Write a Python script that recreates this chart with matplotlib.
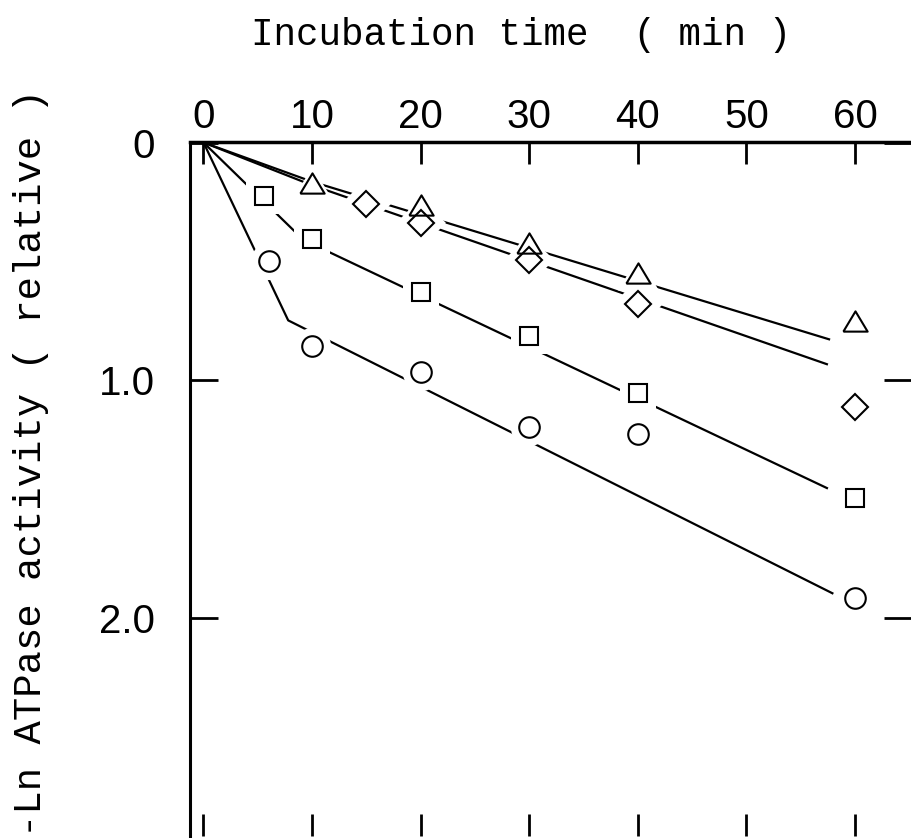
import matplotlib
matplotlib.use("Agg")
import matplotlib.pyplot as plt
import numpy as np

# measured points (time in min, -ln activity)
t_tri = [10, 20, 30, 40, 60]
v_tri = [0.171, 0.263, 0.422, 0.551, 0.752]
t_dia = [15, 20, 30, 40, 60]
v_dia = [0.259, 0.340, 0.493, 0.680, 1.112]
t_sq = [5.6, 10, 20, 30, 40, 60]
v_sq = [0.225, 0.406, 0.631, 0.813, 1.056, 1.497]
t_circ = [6, 10, 20, 30, 40, 60]
v_circ = [0.498, 0.857, 0.967, 1.197, 1.227, 1.917]

# hand drawn fit lines (vertices)
fit_tri_t = [0, 10, 57.7]
fit_tri_v = [0, 0.165, 0.83]
fit_dia_t = [0, 10, 57.5]
fit_dia_v = [0, 0.18, 0.935]
fit_sq_t = [0, 9.2, 57.5]
fit_sq_v = [0, 0.41, 1.457]
fit_circ_t = [0, 7.8, 58]
fit_circ_v = [0, 0.749, 1.90]

xticks = [0, 10, 20, 30, 40, 50, 60]
yticks = [0, 1.0, 2.0]
yticklabels = ["0", "1.0", "2.0"]

W, H = 911, 838
fig = plt.figure(figsize=(W / 100, H / 100), dpi=100)
ax = fig.add_axes([190 / W, 1 - 836 / H, (912 - 190) / W, (836 - 142.5) / H])

tri = [(-0.6, -0.5), (0.6, -0.5), (0, 0.5), (-0.6, -0.5)]
series = [
    (t_tri, v_tri, tri, 17.5),
    (t_dia, v_dia, "D", 13.2),
    (t_sq, v_sq, "s", 13.6),
    (t_circ, v_circ, "o", 14.8),
]

for ft, fv in [(fit_tri_t, fit_tri_v), (fit_dia_t, fit_dia_v),
               (fit_sq_t, fit_sq_v), (fit_circ_t, fit_circ_v)]:
    ax.plot(ft, fv, color="black", lw=1.6, solid_capstyle="butt", zorder=2)

# white halo so the lines stop short of the symbols
for t, v, m, ms in series:
    ax.plot(t, v, ls="none", marker=m, ms=ms + 12, mfc="white", mec="white",
            mew=0, zorder=3)
for t, v, m, ms in series:
    ax.plot(t, v, ls="none", marker=m, ms=ms, mfc="none", mec="black",
            mew=1.5, zorder=4)

ax.set_xlim(-1.243, 65.24)
ax.set_ylim(2.92, 0)

ax.set_xticks(xticks)
ax.set_xticklabels([str(x) for x in xticks])
ax.set_yticks(yticks)
ax.set_yticklabels(yticklabels)

ax.tick_params(axis="x", direction="in", top=True, bottom=True,
               labeltop=True, labelbottom=False, length=16, width=2, pad=5,
               labelsize=29)
ax.tick_params(axis="y", direction="in", left=True, right=True,
               length=20, width=2, pad=25, labelsize=29)
for lab in ax.get_xticklabels() + ax.get_yticklabels():
    lab.set_fontfamily("Liberation Sans")

ax.spines["top"].set_linewidth(2.5)
ax.spines["left"].set_linewidth(2.2)
ax.spines["right"].set_visible(False)
ax.spines["bottom"].set_visible(False)

ax.xaxis.set_label_position("top")
ax.set_xlabel("Incubation time  ( min )", fontsize=27, family="Liberation Mono")
ax.xaxis.set_label_coords(0.4584, 1.155)
ax.xaxis.label.set_va("center")

ax.set_ylabel("-Ln ATPase activity ( relative )", fontsize=28,
              family="Liberation Mono")
ax.yaxis.set_label_coords(-0.22, 0.538)
ax.yaxis.label.set_va("center")

fig.savefig("out.png", dpi=100)
